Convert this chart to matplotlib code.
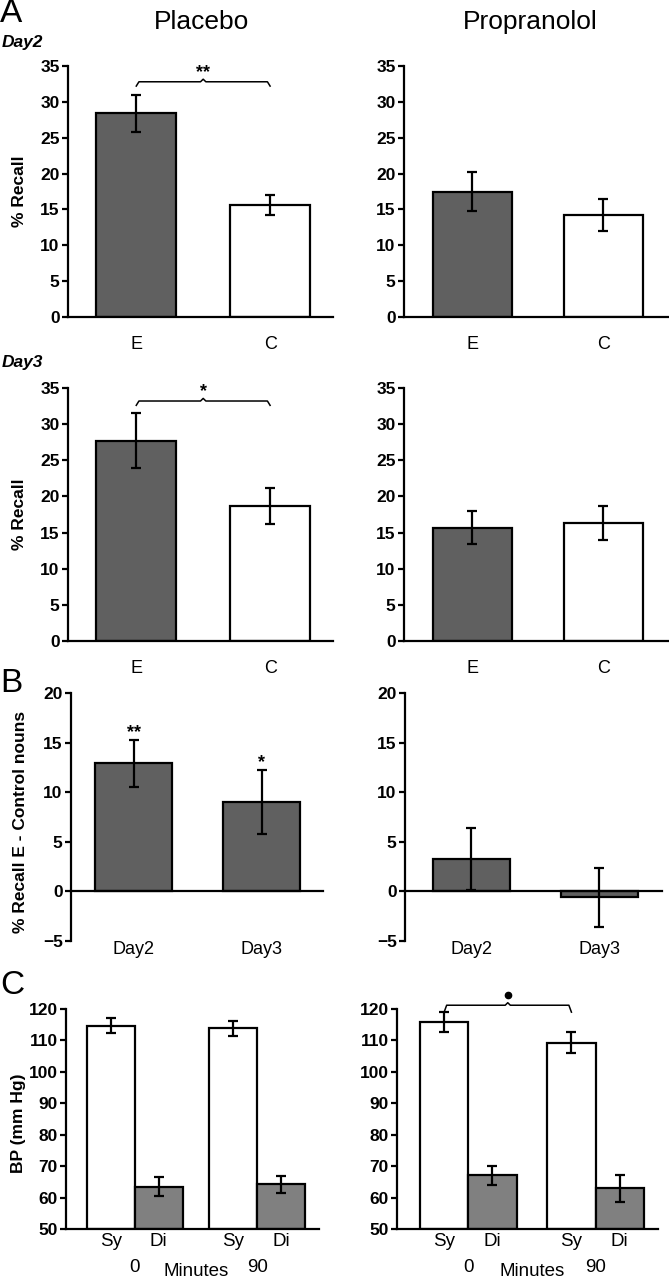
import matplotlib

matplotlib.use("Agg")
import matplotlib.pyplot as plt  # noqa: E402

plt.rcParams["font.family"] = ["Liberation Sans", "DejaVu Sans"]

# panel A: % recall, emotional (E) vs control (C) nouns
recall_labels = ["E", "C"]
placebo_day2 = [28.4, 15.6]
placebo_day2_err = [2.6, 1.4]
propranolol_day2 = [17.5, 14.2]
propranolol_day2_err = [2.7, 2.2]
placebo_day3 = [27.7, 18.7]
placebo_day3_err = [3.8, 2.5]
propranolol_day3 = [15.7, 16.3]
propranolol_day3_err = [2.25, 2.35]

# panel B: E - control difference
diff_labels = ["Day2", "Day3"]
placebo_diff = [12.9, 9.0]
placebo_diff_err = [2.4, 3.25]
propranolol_diff = [3.25, -0.6]
propranolol_diff_err = [3.15, 3.0]

# panel C: blood pressure at 0 and 90 minutes
bp_minutes = ["0", "90"]
placebo_sys = [114.7, 113.8]
placebo_sys_err = [2.4, 2.5]
placebo_dia = [63.4, 64.2]
placebo_dia_err = [3.0, 2.8]
propranolol_sys = [115.9, 109.3]
propranolol_sys_err = [3.1, 3.3]
propranolol_dia = [67.1, 63.0]
propranolol_dia_err = [3.0, 4.3]

DARK = "#606060"
MID = "#808080"
W, H = 669, 1280
LW = 1.6
TICK = 12.5
LABEL = 13.5


def rect(x0, x1, top, bottom):
    return [x0 / W, 1 - bottom / H, (x1 - x0) / W, (bottom - top) / H]


def style(axis, ylim, step):
    for side in ["top", "right"]:
        axis.spines[side].set_visible(False)
    for side in ["left", "bottom"]:
        axis.spines[side].set_linewidth(LW)
    axis.set_ylim(*ylim)
    axis.set_yticks(range(ylim[0], ylim[1] + 1, step))
    axis.tick_params(axis="y", direction="out", length=4, width=LW, labelsize=TICK, pad=2)
    axis.tick_params(axis="x", length=0, labelsize=13, pad=14)
    for label in axis.get_yticklabels():
        label.set_fontweight("bold")


def bracket(axis, x0, x1, y, h, mark, size=13):
    mid = (x0 + x1) / 2
    axis.plot([x0, x0 + 0.02, mid - 0.02, mid, mid + 0.02, x1 - 0.02, x1],
              [y - h, y, y, y + h * 0.6, y, y, y - h],
              color="black", lw=1.1, clip_on=False)
    axis.text(mid, y + h * 0.2, mark, ha="center", va="bottom",
              fontsize=size, fontweight="bold")


def recall_panel(axis, values, errors, xlim):
    x = range(len(values))
    axis.bar(x, values, width=0.6, color=[DARK, "white"], edgecolor="black", linewidth=LW)
    axis.errorbar(x, values, yerr=errors, fmt="none", ecolor="black",
                  elinewidth=LW, capsize=3.5, capthick=LW)
    axis.set_xlim(*xlim)
    axis.set_xticks(list(x))
    axis.set_xticklabels(recall_labels)
    style(axis, (0, 35), 5)


def diff_panel(axis, values, errors, xlim):
    x = list(range(len(values)))
    axis.bar(x, values, width=0.6, color=DARK, edgecolor="black", linewidth=LW)
    axis.errorbar(x, values, yerr=errors, fmt="none", ecolor="black",
                  elinewidth=LW, capsize=3.5, capthick=LW)
    axis.set_xlim(*xlim)
    style(axis, (-5, 20), 5)
    axis.spines["bottom"].set_position(("data", 0))
    axis.set_xticks([])
    for xi, label in zip(x, diff_labels):
        axis.text(xi, -5.0, label, ha="center", va="top", fontsize=13)


def bp_panel(axis, sys_vals, sys_err, dia_vals, dia_err, width, xlim):
    groups = list(range(len(sys_vals)))
    xs = [g - width / 2 for g in groups]
    xd = [g + width / 2 for g in groups]
    axis.bar(xs, [v - 50 for v in sys_vals], bottom=50, width=width, color="white",
             edgecolor="black", linewidth=LW)
    axis.bar(xd, [v - 50 for v in dia_vals], bottom=50, width=width, color=MID,
             edgecolor="black", linewidth=LW)
    axis.errorbar(xs, sys_vals, yerr=sys_err, fmt="none", ecolor="black",
                  elinewidth=LW, capsize=3.5, capthick=LW)
    axis.errorbar(xd, dia_vals, yerr=dia_err, fmt="none", ecolor="black",
                  elinewidth=LW, capsize=3.5, capthick=LW)
    axis.set_xlim(*xlim)
    axis.set_xticks(xs + xd)
    axis.set_xticklabels(["Sy"] * len(xs) + ["Di"] * len(xd))
    style(axis, (50, 120), 10)
    axis.tick_params(axis="x", pad=3, labelsize=LABEL)
    for g, minute in zip(groups, bp_minutes):
        axis.annotate(minute, (g, 50), xytext=(0, -27.5), textcoords="offset points",
                      ha="center", va="center", fontsize=LABEL, annotation_clip=False)
    axis.annotate("Minutes", ((groups[0] + groups[-1]) / 2, 50), xytext=(0, -30.5),
                  textcoords="offset points", ha="center", va="center", fontsize=LABEL,
                  annotation_clip=False)


fig = plt.figure(figsize=(W / 100, H / 100), dpi=100)

a1 = fig.add_axes(rect(68, 333, 66, 317))
recall_panel(a1, placebo_day2, placebo_day2_err, (-0.51, 1.47))
a1.set_ylabel("% Recall", fontsize=LABEL - 1, fontweight="bold")
a1.yaxis.set_label_coords(-0.155, 0.5)
bracket(a1, 0, 1, 32.8, 0.6, "**")

a2 = fig.add_axes(rect(404, 669, 66, 317))
recall_panel(a2, propranolol_day2, propranolol_day2_err, (-0.52, 1.5))

a3 = fig.add_axes(rect(68, 333, 388, 641))
recall_panel(a3, placebo_day3, placebo_day3_err, (-0.51, 1.47))
a3.set_ylabel("% Recall", fontsize=LABEL - 1, fontweight="bold")
a3.yaxis.set_label_coords(-0.155, 0.5)
bracket(a3, 0, 1, 33.2, 0.6, "*")

a4 = fig.add_axes(rect(404, 669, 388, 641))
recall_panel(a4, propranolol_day3, propranolol_day3_err, (-0.52, 1.5))

b1 = fig.add_axes(rect(71, 323, 693, 941))
diff_panel(b1, placebo_diff, placebo_diff_err, (-0.49, 1.48))
b1.set_ylabel("% Recall E - Control nouns", fontsize=LABEL - 1, fontweight="bold")
b1.yaxis.set_label_coords(-0.17, 0.48)
for xi, (v, e, mark) in enumerate(zip(placebo_diff, placebo_diff_err, ["**", "*"])):
    b1.text(xi, v + e - 0.1, mark, ha="center", va="bottom", fontsize=13, fontweight="bold")

b2 = fig.add_axes(rect(405, 662, 693, 941))
diff_panel(b2, propranolol_diff, propranolol_diff_err, (-0.52, 1.49))

c1 = fig.add_axes(rect(66, 319, 1009, 1229))
bp_panel(c1, placebo_sys, placebo_sys_err, placebo_dia, placebo_dia_err, 0.39, (-0.564, 1.507))
c1.set_ylabel("BP (mm Hg)", fontsize=LABEL - 1, fontweight="bold")
c1.yaxis.set_label_coords(-0.16, 0.48)

c2 = fig.add_axes(rect(397, 658, 1009, 1229))
bp_panel(c2, propranolol_sys, propranolol_sys_err, propranolol_dia, propranolol_dia_err,
         0.38, (-0.56, 1.49))
mid = (-0.19 + 0.81) / 2
c2.plot([-0.19, -0.17, mid - 0.02, mid, mid + 0.02, 0.79, 0.81],
        [119.0, 121.2, 121.2, 122.0, 121.2, 121.2, 119.0],
        color="black", lw=1.1, clip_on=False)
c2.plot([mid], [124.5], "o", color="black", markersize=4.5, clip_on=False)

fig.text(0 / W, 1 - 14 / H, "A", fontsize=24, va="center", ha="left")
fig.text(0 / W, 1 - 683 / H, "B", fontsize=24, va="center", ha="left")
fig.text(0 / W, 1 - 986 / H, "C", fontsize=24, va="center", ha="left")
fig.text(201 / W, 1 - 22 / H, "Placebo", fontsize=19, ha="center", va="center")
fig.text(530 / W, 1 - 22 / H, "Propranolol", fontsize=19, ha="center", va="center")
fig.text(2 / W, 1 - 42 / H, "Day2", fontsize=12.5, fontweight="bold", style="italic",
         ha="left", va="center")
fig.text(2 / W, 1 - 363 / H, "Day3", fontsize=12.5, fontweight="bold", style="italic",
         ha="left", va="center")

fig.savefig("out.png", dpi=100)
